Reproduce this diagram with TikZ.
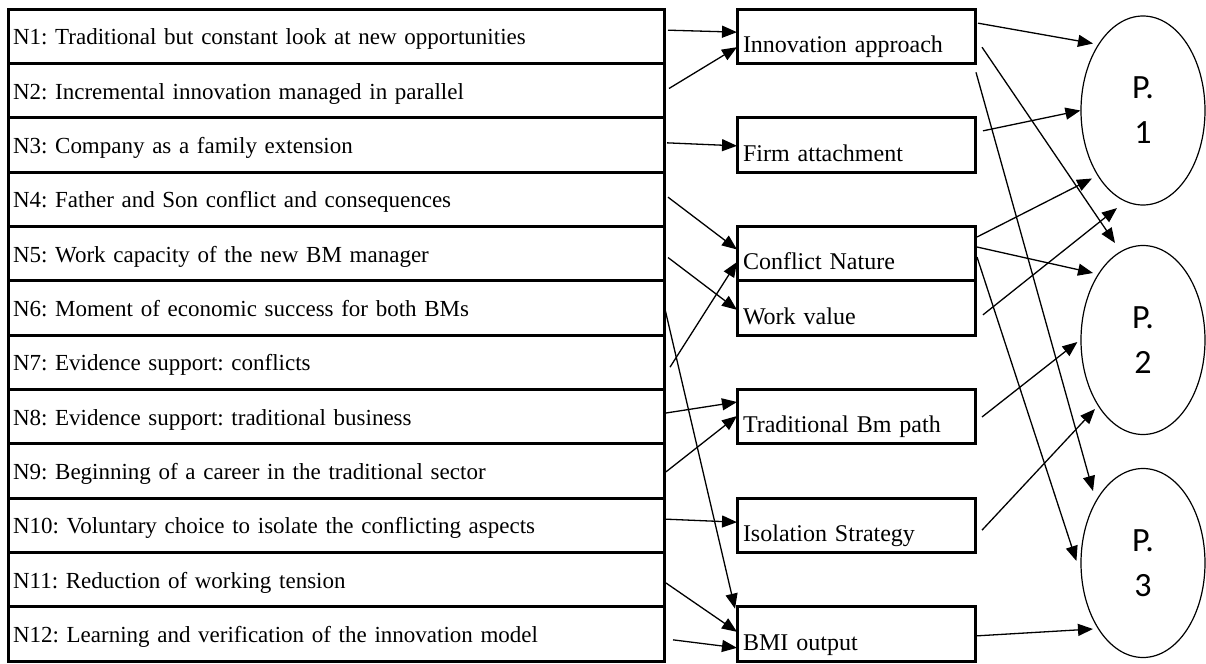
\documentclass[tikz,border=0pt]{standalone}
\usepackage{fontspec}
\setmainfont{Liberation Serif}
\newfontfamily\pfont{Carlito}
\usetikzlibrary{calc, arrows.meta, shapes.geometric}
\frenchspacing

\begin{document}
\begin{tikzpicture}[x=0.5pt, y=-0.5pt, >={Triangle[length=7.5pt, width=6pt]},
    rowbox/.style={draw, line width=1.5pt, anchor=north west, outer sep=0pt,
        minimum height=27.17pt, text width=323pt, inner xsep=2.5pt, inner ysep=0pt,
        text height=10pt, text depth=1.5pt,
        align=left, font=\fontsize{11.5}{13}\selectfont},
    themebox/.style={draw, line width=1.5pt, anchor=north west, outer sep=0pt,
        text width=113pt, inner xsep=3pt, inner ysep=2pt, text height=19.67pt,
        text depth=3.5pt, align=left, font=\fontsize{12}{14}\selectfont},
    propbox/.style={ellipse, draw, line width=0.6pt, minimum width=62pt,
        minimum height=94.5pt, inner sep=0pt, align=center,
        font=\pfont\fontsize{17}{22.5}\selectfont},
    link/.style={->, line width=0.65pt}]

    \useasboundingbox (0,0) rectangle (1206,664);

    % --- Narrative rows (Left Side) ---
    \node[rowbox] (n1)  at (8,9)      {N1: Traditional but constant look at new opportunities};
    \node[rowbox] (n2)  at (8,63.33)  {N2: Incremental innovation managed in parallel};
    \node[rowbox] (n3)  at (8,117.67) {N3: Company as a family extension};
    \node[rowbox] (n4)  at (8,172)    {N4: Father and Son conflict and consequences};
    \node[rowbox] (n5)  at (8,226.33) {N5: Work capacity of the new BM manager};
    \node[rowbox] (n6)  at (8,280.67) {N6: Moment of economic success for both BMs};
    \node[rowbox] (n7)  at (8,335)    {N7: Evidence support: conflicts};
    \node[rowbox] (n8)  at (8,389.33) {N8: Evidence support: traditional business};
    \node[rowbox] (n9)  at (8,443.67) {N9: Beginning of a career in the traditional sector};
    \node[rowbox] (n10) at (8,498)    {N10: Voluntary choice to isolate the conflicting aspects};
    \node[rowbox] (n11) at (8,552.33) {N11: Reduction of working tension};
    \node[rowbox] (n12) at (8,606.67) {N12: Learning and verification of the innovation model};

    % --- Themes (Middle) ---
    \node[themebox] (innov)    at (737,9)      {Innovation approach};
    \node[themebox] (firm)     at (737,117.67) {Firm attachment};
    \node[themebox] (conflict) at (737,226.33) {Conflict Nature};
    \node[themebox] (work)     at (737,280.67) {Work value};
    \node[themebox] (trad)     at (737,389.33) {Traditional Bm path};
    \node[themebox] (isol)     at (737,498)    {Isolation Strategy};
    \node[themebox] (bmi)      at (737,606.67) {BMI output};

    % --- Propositions (Right Side) ---
    \node[propbox] (p1) at (1143,110.5) {P.\\1};
    \node[propbox] (p2) at (1143,340)   {P.\\2};
    \node[propbox] (p3) at (1143,563)   {P.\\3};

    % --- Rows to themes ---
    \draw[link] ($(n1.east)+(4,-6)$)   -- ($(innov.west)+(0,-4)$);
    \draw[link] ($(n2.east)+(5,-2)$)   -- ($(innov.west)+(0,11)$);
    \draw[link] ($(n3.east)+(3,-2)$)   -- ($(firm.west)+(0,1)$);
    \draw[link] ($(n4.east)+(4,-2)$)   -- ($(conflict.west)+(0,-4)$);
    \draw[link] ($(n5.east)+(4,4)$)    -- ($(work.west)+(0,2)$);
    \draw[link] ($(n6.east)+(0,-3)$)   -- ($(bmi.north west)+(-2,2)$);
    \draw[link] ($(n7.east)+(6,5)$)    -- ($(conflict.west)+(0,8.5)$);
    \draw[link] ($(n8.east)+(2,-3.5)$) -- ($(trad.west)+(0,-14.5)$);
    \draw[link] ($(n9.east)+(2,1)$)    -- ($(trad.west)+(0,-0.5)$);
    \draw[link] ($(n10.east)+(2,-6)$)  -- ($(isol.west)+(0,-3)$);
    \draw[link] ($(n11.east)+(2,3.5)$) -- ($(bmi.west)+(0,-2)$);
    \draw[link] ($(n12.east)+(9,6)$)   -- ($(bmi.west)+(0,14)$);

    % --- Themes to propositions ---
    \draw[link] ($(innov.east)+(3,-13)$)       -- ($(p1.center)+(-50,-67)$);
    \draw[link] ($(innov.east)+(7,11)$)        -- ($(p2.center)+(-28,-97)$);
    \draw[link] ($(innov.south east)+(1,9)$)   -- ($(p3.center)+(-50,-72)$);
    \draw[link] ($(firm.east)+(8,-14)$)        -- (p1.west);
    \draw[link] ($(conflict.east)+(2,-16.5)$)  -- ($(p1.center)+(-51,68)$);
    \draw[link] ($(conflict.east)+(2,-6.5)$)   -- ($(p2.center)+(-50,-67)$);
    \draw[link] ($(conflict.east)+(2,3.5)$)    -- ($(p3.west)+(-4,-2)$);
    \draw[link] ($(work.east)+(8,7)$)          -- ($(p1.south)+(-26,2.5)$);
    \draw[link] ($(trad.east)+(7,0.5)$)        -- ($(p2.west)+(-3,2)$);
    \draw[link] ($(isol.east)+(7,5)$)          -- ($(p2.center)+(-48,69)$);
    \draw[link] ($(bmi.east)+(2,2)$)           -- ($(p3.center)+(-50,66)$);

\end{tikzpicture}
\end{document}
